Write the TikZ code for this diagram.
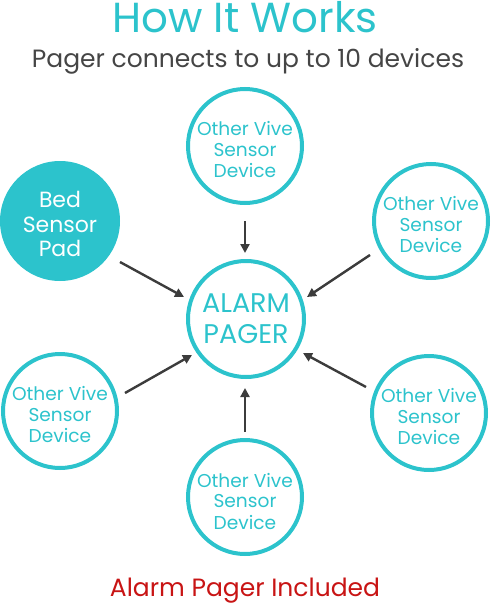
\documentclass[tikz,border=0pt]{standalone}
\usepackage{fontspec}
\setmainfont{Poppins}
\usetikzlibrary{arrows.meta,calc}
\definecolor{teal}{HTML}{2CC3CC}
\definecolor{darkg}{HTML}{3C3C3C}
\definecolor{subg}{HTML}{454545}
\definecolor{redt}{HTML}{C81414}
\tikzset{
  dev/.style={circle,draw=teal,line width=4pt,minimum size=114pt,inner sep=0pt},
  devtxt/.style={inner sep=0pt,text=teal,align=center,font=\fontsize{18.6}{21}\selectfont},
  pagerc/.style={circle,draw=teal,line width=4pt,minimum size=116pt,inner sep=0pt,text=teal,align=center,
    font=\fontsize{27}{31}\selectfont},
  bedc/.style={circle,fill=teal,minimum size=120pt,inner sep=0pt},
  bedtxt/.style={inner sep=0pt,text=white,align=center,font=\fontsize{22}{24.5}\selectfont},
  arr/.style={draw=darkg,line width=2.4pt,-{Triangle[length=9pt,width=9pt]}},
}
\begin{document}
\begin{tikzpicture}[x=1pt,y=-1pt]
\useasboundingbox (0,0) rectangle (490,605);
\node[anchor=base,text=teal,font=\fontsize{42}{46}\selectfont] (title) at (245,32) {How It Works};
\node[anchor=base,text=subg,font=\fontsize{25}{28}\selectfont] (sub) at (248,67) {Pager connects to up to 10 devices};
\node[pagerc] (pager) at (246,319) {ALARM\\PAGER};
\node[dev] (top) at (245,146) {};
\node[devtxt] (toptxt) at ($(top)+(0,4)$) {Other Vive\\Sensor\\Device};
\node[bedc] (bed) at (60,221) {};
\node[bedtxt] (bedt) at ($(bed)+(0,3)$) {Bed\\Sensor\\Pad};
\node[dev] (ur) at (431,221) {};
\node[devtxt] (urtxt) at ($(ur)+(0,4)$) {Other Vive\\Sensor\\Device};
\node[dev] (lr) at (429,413) {};
\node[devtxt] (lrtxt) at ($(lr)+(0,4)$) {Other Vive\\Sensor\\Device};
\node[dev] (ll) at (60,411) {};
\node[devtxt] (lltxt) at ($(ll)+(0,4)$) {Other Vive\\Sensor\\Device};
\node[dev] (bot) at (245,497) {};
\node[devtxt] (bottxt) at ($(bot)+(0,4)$) {Other Vive\\Sensor\\Device};
\node[anchor=base,text=redt,font=\fontsize{25}{28}\selectfont] (incl) at (245,596) {Alarm Pager Included};
\draw[arr] ($(top)+(0,75)$) -- ($(pager)+(-1,-66)$);
\draw[arr] ($(bed)+(60,41)$) -- ($(pager)+(-62,-22)$);
\draw[arr] ($(ur)+(-61,34)$) -- ($(pager)+(61,-22)$);
\draw[arr] ($(lr)+(-63,-26)$) -- ($(pager)+(57,34)$);
\draw[arr] ($(ll)+(65,-18)$) -- ($(pager)+(-54,36)$);
\draw[arr] ($(bot)+(0,-65)$) -- ($(pager)+(-1,69)$);
\end{tikzpicture}
\end{document}
